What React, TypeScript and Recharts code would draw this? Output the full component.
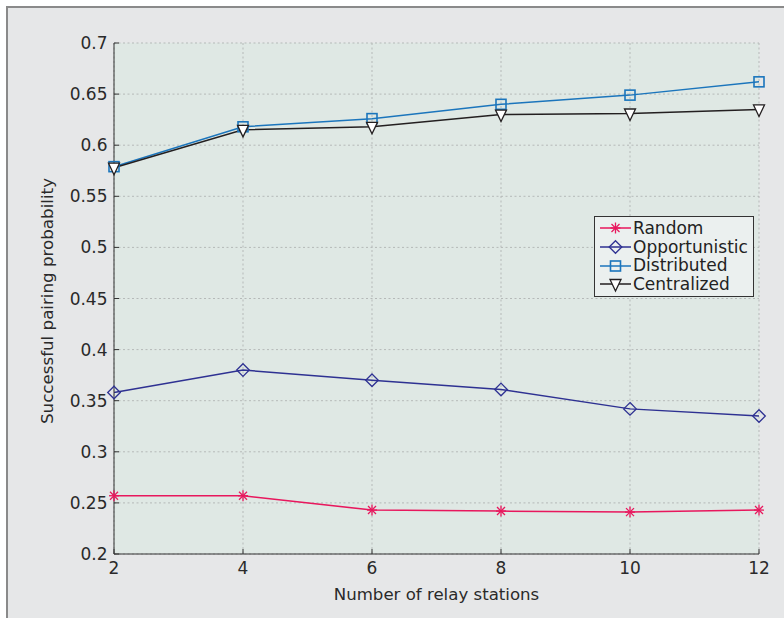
import { LineChart, Line, XAxis, YAxis, CartesianGrid, Legend } from 'recharts';

const relayStations = [2, 4, 6, 8, 10, 12];
const yTicks = [0.2, 0.25, 0.3, 0.35, 0.4, 0.45, 0.5, 0.55, 0.6, 0.65, 0.7];

const random = [0.257, 0.257, 0.243, 0.242, 0.241, 0.243];
const opportunistic = [0.358, 0.38, 0.37, 0.361, 0.342, 0.335];
const distributed = [0.579, 0.618, 0.626, 0.64, 0.649, 0.662];
const centralized = [0.578, 0.615, 0.618, 0.63, 0.631, 0.635];

const chartData = relayStations.map((n, i) => ({
    n,
    random: random[i],
    opportunistic: opportunistic[i],
    distributed: distributed[i],
    centralized: centralized[i],
}));

const FONT = '"DejaVu Sans", sans-serif';
const TICK_STYLE = { fontSize: 17, fill: '#2a2a2a', fontFamily: FONT };
const AXIS_COLOR = '#333';

const COLORS = {
    random: '#e8175d',
    opportunistic: '#2e3192',
    distributed: '#1b75bc',
    centralized: '#231f20',
};

type MarkerProps = { cx: number; cy: number; color: string };

const Star = ({ cx, cy, color }: MarkerProps) => (
    <g stroke={color} strokeWidth={1.3}>
        <line x1={cx - 5} y1={cy} x2={cx + 5} y2={cy} />
        <line x1={cx} y1={cy - 5.5} x2={cx} y2={cy + 5.5} />
        <line x1={cx - 4} y1={cy - 4} x2={cx + 4} y2={cy + 4} />
        <line x1={cx - 4} y1={cy + 4} x2={cx + 4} y2={cy - 4} />
    </g>
);

const Diamond = ({ cx, cy, color }: MarkerProps) => (
    <path
        d={`M${cx} ${cy - 6.3}L${cx + 6.3} ${cy}L${cx} ${cy + 6.3}L${cx - 6.3} ${cy}Z`}
        fill="none"
        stroke={color}
        strokeWidth={1.3}
    />
);

const Square = ({ cx, cy, color }: MarkerProps) => (
    <rect x={cx - 5} y={cy - 5} width={10} height={10} fill="none" stroke={color} strokeWidth={1.6} />
);

const Triangle = ({ cx, cy, color }: MarkerProps) => (
    <path
        d={`M${cx - 5.5} ${cy - 4.5}L${cx + 5.5} ${cy - 4.5}L${cx} ${cy + 7}Z`}
        fill="#fff"
        stroke={color}
        strokeWidth={1.3}
    />
);

const series = [
    { key: 'random', name: 'Random', color: COLORS.random, Marker: Star },
    { key: 'opportunistic', name: 'Opportunistic', color: COLORS.opportunistic, Marker: Diamond },
    { key: 'distributed', name: 'Distributed', color: COLORS.distributed, Marker: Square },
    { key: 'centralized', name: 'Centralized', color: COLORS.centralized, Marker: Triangle },
];

const renderLegend = () => (
    <div
        style={{
            width: 160,
            height: 81,
            boxSizing: 'border-box',
            border: '1px solid #333',
            background: '#ebf0ef',
            paddingTop: 2,
            fontFamily: FONT,
            fontSize: 17,
            color: '#222',
        }}
    >
        {series.map(({ key, name, color, Marker }) => (
            <div key={key} style={{ display: 'flex', alignItems: 'center', height: 18.7, lineHeight: '18.7px' }}>
                <svg width={38} height={18} style={{ flex: 'none' }}>
                    <line x1={5} y1={9} x2={36} y2={9} stroke={color} strokeWidth={1.5} />
                    <Marker cx={20.5} cy={9} color={color} />
                </svg>
                <span style={{ whiteSpace: 'nowrap' }}>{name}</span>
            </div>
        ))}
    </div>
);

export default function App() {
    return (
        <div style={{ position: 'absolute', left: 0, top: 0, width: 784, height: 618, overflow: 'hidden', background: '#fff' }}>
            <div
                style={{
                    position: 'absolute',
                    left: 6,
                    top: 6,
                    width: 820,
                    height: 700,
                    border: '2px solid #8a8a8a',
                    background: '#e6e7e8',
                }}
            />
            <div style={{ position: 'absolute', left: 0, top: 0 }}>
                <LineChart width={784} height={618} data={chartData} margin={{ top: 43, right: 25, left: 54, bottom: 34 }}>
                    <CartesianGrid
                        fill="#dfe8e4"
                        stroke="#b5b9b8"
                        strokeDasharray="2 2.5"
                        horizontalValues={yTicks}
                        verticalValues={relayStations}
                    />
                    <XAxis
                        dataKey="n"
                        type="number"
                        domain={[2, 12]}
                        ticks={relayStations}
                        height={30}
                        tick={TICK_STYLE}
                        tickSize={-5}
                        tickMargin={13}
                        axisLine={{ stroke: AXIS_COLOR }}
                        tickLine={{ stroke: AXIS_COLOR }}
                    />
                    <XAxis
                        xAxisId="top"
                        orientation="top"
                        dataKey="n"
                        type="number"
                        domain={[2, 12]}
                        ticks={relayStations}
                        height={0}
                        tickFormatter={() => ''}
                        tickSize={-5}
                        axisLine={{ stroke: AXIS_COLOR }}
                        tickLine={{ stroke: AXIS_COLOR }}
                    />
                    <YAxis
                        type="number"
                        domain={[0.2, 0.7]}
                        ticks={yTicks}
                        width={60}
                        tick={TICK_STYLE}
                        tickSize={-5}
                        tickMargin={11.5}
                        axisLine={{ stroke: AXIS_COLOR }}
                        tickLine={{ stroke: AXIS_COLOR }}
                    />
                    <YAxis
                        yAxisId="right"
                        orientation="right"
                        type="number"
                        domain={[0.2, 0.7]}
                        ticks={yTicks}
                        width={0}
                        tickFormatter={() => ''}
                        tickSize={-5}
                        axisLine={{ stroke: AXIS_COLOR }}
                        tickLine={{ stroke: AXIS_COLOR }}
                    />
                    {series.map(({ key, name, color, Marker }) => (
                        <Line
                            key={key}
                            dataKey={key}
                            name={name}
                            stroke={color}
                            strokeWidth={1.5}
                            isAnimationActive={false}
                            dot={(p: any) => <Marker key={`${key}-${p.index}`} cx={p.cx} cy={p.cy} color={color} />}
                            activeDot={false}
                        />
                    ))}
                    <Legend
                        content={renderLegend}
                        layout="horizontal"
                        verticalAlign="middle"
                        align="center"
                        wrapperStyle={{ left: 594, top: 216, width: 160, height: 81 }}
                    />
                </LineChart>
            </div>
            <svg width={784} height={618} style={{ position: 'absolute', left: 0, top: 0, pointerEvents: 'none' }}>
                <text x={436.5} y={594} textAnchor="middle" dominantBaseline="central" fontFamily={FONT} fontSize={16.6} fill="#2a2a2a">
                    Number of relay stations
                </text>
                <text
                    x={46.5}
                    y={301}
                    transform="rotate(-90 46.5 301)"
                    textAnchor="middle"
                    dominantBaseline="central"
                    fontFamily={FONT}
                    fontSize={16.7}
                    fill="#2a2a2a"
                >
                    Successful pairing probability
                </text>
            </svg>
        </div>
    );
}
